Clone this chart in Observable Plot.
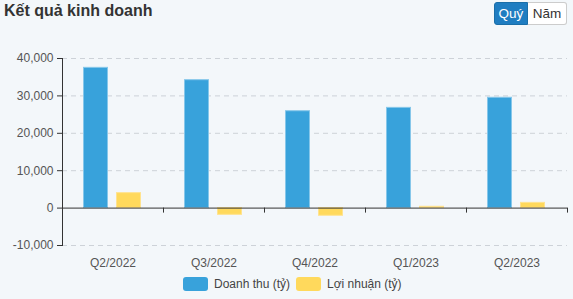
<!DOCTYPE html>
<html>
<head>
<meta charset="utf-8">
<script src="https://cdn.jsdelivr.net/npm/d3@7"></script>
<script src="https://cdn.jsdelivr.net/npm/@observablehq/plot@0.6"></script>
<style>
  html, body { margin: 0; padding: 0; background: #f3f7fa; }
  body { width: 573px; height: 299px; position: relative; overflow: hidden; font-family: "Liberation Sans", Arial, sans-serif; }
  #title { position: absolute; left: 4px; top: 2px; font-size: 16px; font-weight: bold; color: #333; }
  #btns { position: absolute; left: 494px; top: 2px; height: 23px; display: flex; font-size: 13.5px; }
  #btns span { display: flex; align-items: center; justify-content: center; height: 21px; box-sizing: content-box; }
  #b1 { width: 32px; background: #1f7dc1; color: #fff; border: 1px solid #1a6ea8; border-radius: 3px 0 0 3px; }
  #b2 { width: 38px; background: #fff; color: #333; border: 1px solid #ccc; border-left: none; border-radius: 0 3px 3px 0; }
  #chart { position: absolute; left: 0; top: 35px; }
  #legend { position: absolute; left: 183px; top: 277px; display: flex; align-items: center; font-size: 12px; color: #444; }
  .sw { width: 25px; height: 14px; border-radius: 3px; display: inline-block; margin-right: 6px; }
  .item { display: flex; align-items: center; margin-right: 6px; }
</style>
</head>
<body>
<div id="title">Kết quả kinh doanh</div>
<div id="btns"><span id="b1">Quý</span><span id="b2">Năm</span></div>
<div id="chart"></div>
<div id="legend"></div>
<script>
const quarters = ["Q2/2022", "Q3/2022", "Q4/2022", "Q1/2023", "Q2/2023"];
const revenue = [37500, 34200, 25900, 26800, 29500];
const profit = [4000, -1800, -2050, 350, 1400];
const yTicks = [-10000, 0, 10000, 20000, 30000, 40000];
const seriesNames = ["Doanh thu (tỷ)", "Lợi nhuận (tỷ)"];
const colors = ["#38a2db", "#ffd95c"];
const strokes = ["#86c7ea", "#ffe38f"];

const revData = quarters.map((q, i) => ({q, v: revenue[i]}));
const profData = quarters.map((q, i) => ({q, v: profit[i]}));

const boundaryTicks = (index, scales, values, dimensions) => {
  const x = scales.x, y = scales.y;
  const bw = x.bandwidth ? x.bandwidth() : (dimensions.width - dimensions.marginLeft - dimensions.marginRight) / quarters.length;
  const y0 = y(0);
  const g = d3.create("svg:g").attr("stroke", "#333").attr("stroke-width", 1);
  const xs = quarters.map(q => x(q)).concat([x(quarters[quarters.length - 1]) + bw]);
  for (const px of xs) {
    g.append("line").attr("x1", Math.round(px) + 0.5).attr("x2", Math.round(px) + 0.5).attr("y1", y0).attr("y2", y0 + 5);
  }
  return g.node();
};

const chart = Plot.plot({
  width: 573,
  height: 235,
  marginLeft: 62,
  marginRight: 6,
  marginTop: 23,
  marginBottom: 25,
  style: { background: "transparent", fontFamily: "Liberation Sans, Arial, sans-serif", fontSize: "12px", color: "#555" },
  x: { domain: quarters, padding: 0, label: null },
  y: { domain: [-10000, 40000], label: null, nice: false },
  marks: [
    Plot.gridY(yTicks.filter(d => d !== 0), { stroke: "#cdd2d8", strokeOpacity: 1, strokeDasharray: "5,4" }),
    Plot.barY(revData, { x: "q", y: "v", fill: colors[0], stroke: strokes[0], strokeWidth: 1, insetLeft: 21.5, insetRight: 55.5 }),
    Plot.barY(profData, { x: "q", y: "v", fill: colors[1], stroke: strokes[1], strokeWidth: 1, insetLeft: 54.5, insetRight: 22.5 }),
    Plot.ruleY([0], { stroke: "#333", strokeWidth: 1 }),
    Plot.frame({ anchor: "left", stroke: "#333" }),
    Plot.axisY(yTicks, { tickSize: 5, tickPadding: 4, tickFormat: d => d.toLocaleString("en-US"), fill: "#555", stroke: "#333" }),
    Plot.axisX({ tickSize: 0, tickPadding: 13, fill: "#555" }),
    boundaryTicks
  ]
});
document.getElementById("chart").appendChild(chart);

const legend = document.getElementById("legend");
seriesNames.forEach((name, i) => {
  const item = document.createElement("span");
  item.className = "item";
  const sw = document.createElement("span");
  sw.className = "sw";
  sw.style.background = colors[i];
  item.appendChild(sw);
  item.appendChild(document.createTextNode(name));
  legend.appendChild(item);
});
</script>
</body>
</html>
